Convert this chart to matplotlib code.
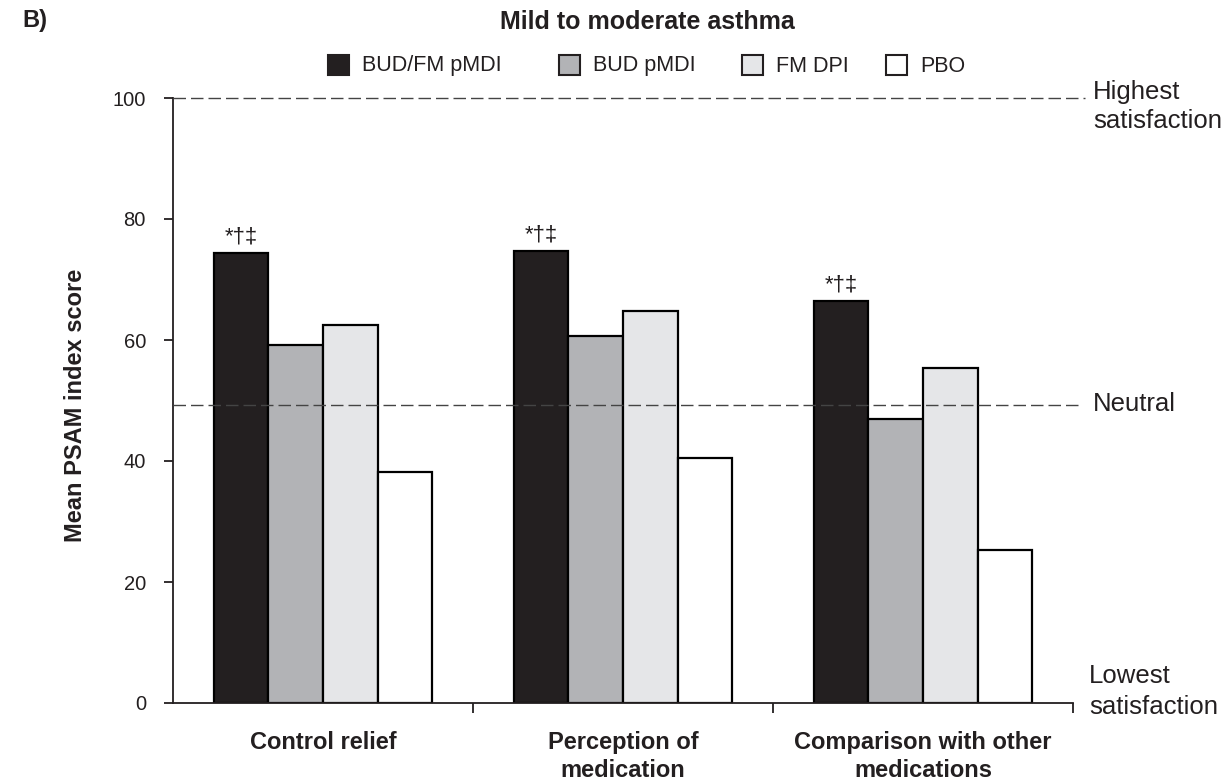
import matplotlib
matplotlib.use("Agg")
import matplotlib.pyplot as plt
from matplotlib.patches import Rectangle
import numpy as np

plt.rcParams['font.family'] = ['Liberation Sans', 'DejaVu Sans']

categories = ["Control relief", "Perception of\nmedication", "Comparison with other\nmedications"]
series_names = ["BUD/FM pMDI", "BUD pMDI", "FM DPI", "PBO"]
bud_fm = [74.3, 74.7, 66.5]
bud = [59.2, 60.6, 47.0]
fm = [62.5, 64.8, 55.4]
pbo = [38.2, 40.5, 25.3]
series_values = [bud_fm, bud, fm, pbo]
colors = ["#231f20", "#b2b3b6", "#e5e6e8", "#ffffff"]
yticks = [0, 20, 40, 60, 80, 100]
neutral_value = 49.3
highest_value = 100
sig_label = "*\u2020\u2021"

W, H = 1232, 782
fig = plt.figure(figsize=(W / 100, H / 100), dpi=100)
ax = fig.add_axes([173 / W, 1 - 703 / H, 900 / W, 605 / H])

x = np.arange(len(categories))
bw = 0.182
offsets = [-1.5, -0.5, 0.5, 1.5]
for vals, col, off in zip(series_values, colors, offsets):
    ax.bar(x + off * bw, vals, width=bw, color=col, edgecolor="black",
           linewidth=1.6, zorder=2)

# significance markers above BUD/FM bars
for xi, v in zip(x, bud_fm):
    ax.annotate(sig_label, (xi - 1.5 * bw, v), xytext=(0, 4),
                textcoords="offset points", ha="center", va="bottom",
                fontsize=16, color="#231f20")

ax.set_xlim(-0.5, 2.5)
ax.set_ylim(0, 100)

# reference lines
ax.plot([-0.5, 2.54], [highest_value, highest_value], color="#444444", lw=1.0,
        dashes=(9, 3.6), clip_on=False, zorder=3)
ax.plot([-0.5, 2.523], [neutral_value, neutral_value], color="#444444", lw=1.0,
        dashes=(9, 3.6), clip_on=False, zorder=3)

for s in ["top", "right"]:
    ax.spines[s].set_visible(False)
for s in ["left", "bottom"]:
    ax.spines[s].set_linewidth(1.3)
    ax.spines[s].set_color("#231f20")

ax.set_yticks(yticks)
ax.set_yticklabels([str(t) for t in yticks], fontsize=14.5, color="#231f20")
ax.tick_params(axis="y", direction="out", length=6.5, width=1.3, pad=13, colors="#231f20")
ax.set_xticks([0.5, 1.5, 2.5])
ax.set_xticklabels([])
ax.tick_params(axis="x", direction="out", length=7, width=1.3, colors="#231f20")

for xi, lab in zip(x, categories):
    ax.text(xi, -4.6, lab, ha="center", va="top", fontsize=17, fontweight="bold",
            color="#231f20", linespacing=1.3, transform=ax.transData, clip_on=False)

# right side annotations
ax.text(1093 / W, 1 - 92 / H, "Highest", transform=fig.transFigure, fontsize=18.5,
        color="#231f20", va="center", ha="left")
ax.text(1093 / W, 1 - 121 / H, "satisfaction", transform=fig.transFigure, fontsize=18.5,
        color="#231f20", va="center", ha="left")
ax.text(1093 / W, 1 - 404 / H, "Neutral", transform=fig.transFigure, fontsize=18.5,
        color="#231f20", va="center", ha="left")
ax.text(1089 / W, 1 - 676 / H, "Lowest", transform=fig.transFigure, fontsize=18.5,
        color="#231f20", va="center", ha="left")
ax.text(1089 / W, 1 - 707 / H, "satisfaction", transform=fig.transFigure, fontsize=18.5,
        color="#231f20", va="center", ha="left")

# y label
fig.text(76 / W, 1 - 405 / H, "Mean PSAM index score", rotation=90, fontsize=17,
         fontweight="bold", ha="center", va="center", color="#231f20")

# title and panel label
fig.text(647 / W, 1 - 22 / H, "Mild to moderate asthma", fontsize=18, fontweight="bold",
         ha="center", va="center", color="#231f20")
fig.text(22 / W, 1 - 21 / H, "B)", fontsize=17, fontweight="bold",
         ha="left", va="center", color="#231f20")

# legend (manual layout)
leg_sq_x = [328, 559, 742, 886]
for name, col, sx in zip(series_names, colors, leg_sq_x):
    fig.add_artist(Rectangle((sx / W, 1 - 75 / H), 21 / W, 20 / H,
                             transform=fig.transFigure, facecolor=col,
                             edgecolor="#231f20", linewidth=1.5))
    fig.text((sx + 34) / W, 1 - 66 / H, name, fontsize=15.5, ha="left", va="center",
             color="#231f20")

fig.savefig("out.png", dpi=100)
